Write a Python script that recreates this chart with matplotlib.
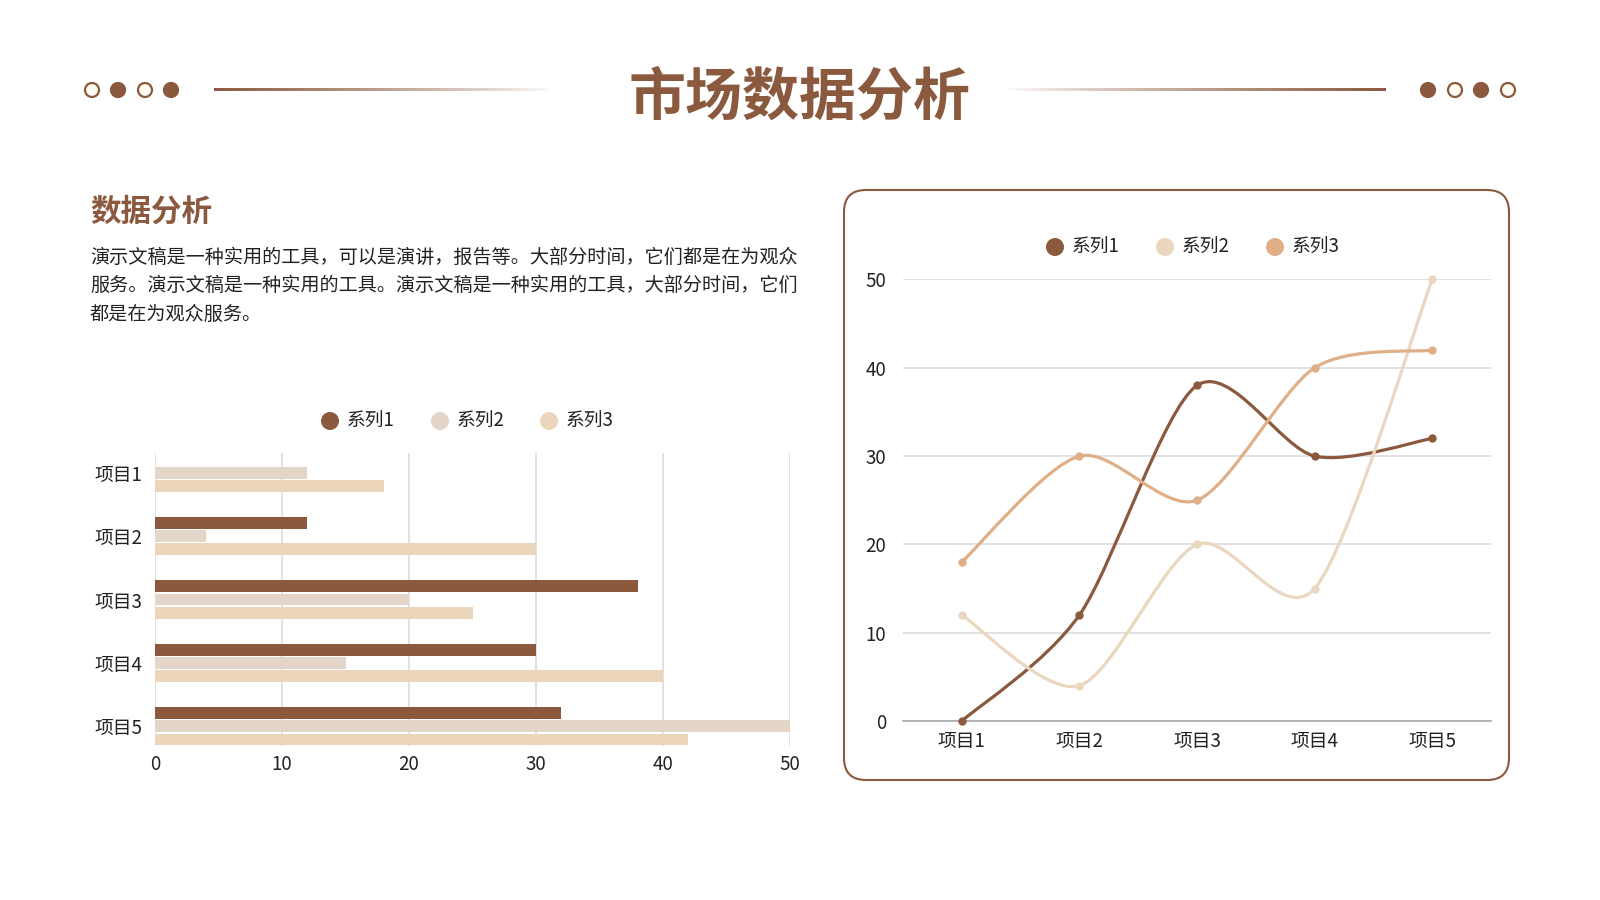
import numpy as np
import matplotlib
matplotlib.use("Agg")
import matplotlib.pyplot as plt
from matplotlib.path import Path
from matplotlib.patches import PathPatch, FancyBboxPatch, Circle

plt.rcParams['font.family'] = ['Noto Sans CJK SC', 'DejaVu Sans']

# data
categories = ["项目1", "项目2", "项目3", "项目4", "项目5"]
series_names = ["系列1", "系列2", "系列3"]
s1 = [0, 12, 38, 30, 32]
s2 = [12, 4, 20, 15, 50]
s3 = [18, 30, 25, 40, 42]
xticks_bar = [0, 10, 20, 30, 40, 50]
yticks_line = [0, 10, 20, 30, 40, 50]

title = "市场数据分析"
heading = "数据分析"
para_lines = [
    "演示文稿是一种实用的工具，可以是演讲，报告等。大部分时间，它们都是在为观众",
    "服务。演示文稿是一种实用的工具。演示文稿是一种实用的工具，大部分时间，它们",
    "都是在为观众服务。",
]

BROWN = "#8B5A3E"
bar_colors = [BROWN, "#E4D5C9", "#EBD6BC"]
line_colors = [BROWN, "#EBD7BF", "#DFAF88"]
GRID = "#DCDCDC"
TXT = "#222222"

W, H = 1600, 900
fig = plt.figure(figsize=(16, 9), dpi=100)
fig.patch.set_facecolor("white")


def box(l, t, r, b):
    # pixel box -> figure fraction rect
    return [l / W, 1 - b / H, (r - l) / W, (b - t) / H]


# overlay in pixel units for decoration
ov = fig.add_axes([0, 0, 1, 1], zorder=0)
ov.set_xlim(0, W)
ov.set_ylim(H, 0)
ov.axis("off")

# title
ov.text(800, 98, title, ha="center", va="center", fontsize=41,
        fontweight="bold", color=BROWN)

# dots
def dot(x, filled):
    fc = BROWN if filled else "#FFFBF3"
    ov.add_patch(Circle((x, 90), 7, facecolor=fc, edgecolor=BROWN, lw=1.6))

for x, f in zip([92, 118, 145, 171], [False, True, False, True]):
    dot(x, f)
for x, f in zip([1428, 1455, 1481, 1508], [True, False, True, False]):
    dot(x, f)

# gradient lines
rgb = matplotlib.colors.to_rgb(BROWN)
n = 300
grad = np.zeros((1, n, 4))
grad[0, :, :3] = rgb
grad[0, :, 3] = np.linspace(1, 0, n) ** 0.8
ov.imshow(grad, extent=(214, 551, 91.5, 88.5), aspect="auto", interpolation="bilinear")
ov.imshow(grad[:, ::-1, :], extent=(1005, 1386, 91.5, 88.5), aspect="auto", interpolation="bilinear")
ov.set_xlim(0, W)
ov.set_ylim(H, 0)

# heading + paragraph
ov.text(90, 212, heading, ha="left", va="center", fontsize=22,
        fontweight="bold", color=BROWN)
for i, ln in enumerate(para_lines):
    ov.text(90, 257 + i * 28.5, ln, ha="left", va="center", fontsize=13.75, color=TXT)

# rounded frame for line chart
ov.add_patch(FancyBboxPatch((844, 190), 665, 590,
                            boxstyle="round,pad=0,rounding_size=22",
                            facecolor="white", edgecolor=BROWN, lw=1.5))

# legends
def legend(xs, y, colors):
    for x, c, name in zip(xs, colors, series_names):
        ov.add_patch(Circle((x, y), 9, facecolor=c, edgecolor="none"))
        ov.text(x + 17, y, name, ha="left", va="center", fontsize=13.5, color=TXT)

legend([330, 440, 549], 421, bar_colors)
legend([1055, 1165, 1275], 247, line_colors)

# bar chart
ax1 = fig.add_axes(box(155, 453, 790, 746), zorder=2)
ax1.set_facecolor("none")
step = 0.209
hgt = 0.185
pos = np.arange(len(categories))
for k, (vals, c) in enumerate(zip([s1, s2, s3], bar_colors)):
    ax1.barh(pos + (k - 1) * step, vals, height=hgt, color=c, zorder=3)
ax1.set_xlim(0, 50)
ax1.set_ylim(4.31, -0.31)
ax1.set_xticks(xticks_bar)
ax1.set_yticks(pos)
ax1.set_yticklabels(categories)
ax1.xaxis.grid(True, color=GRID, lw=1.2)
ax1.set_axisbelow(True)
for sp in ax1.spines.values():
    sp.set_visible(False)
ax1.tick_params(axis="both", length=0, labelsize=13.5, colors=TXT)
ax1.tick_params(axis="x", pad=6)
ax1.tick_params(axis="y", pad=9)


# line chart
def smooth_path(xs, ys, t=1 / 7):
    pts = np.column_stack([xs, ys]).astype(float)
    n = len(pts)
    verts = [pts[0]]
    codes = [Path.MOVETO]
    for i in range(n - 1):
        p0 = pts[max(i - 1, 0)]
        p1 = pts[i]
        p2 = pts[i + 1]
        p3 = pts[min(i + 2, n - 1)]
        c1 = p1 + (p2 - p0) * t
        c2 = p2 - (p3 - p1) * t
        verts += [c1, c2, p2]
        codes += [Path.CURVE4] * 3
    return Path(verts, codes)


ax2 = fig.add_axes(box(903, 279.5, 1491, 721), zorder=2)
ax2.set_facecolor("none")
xs = np.arange(len(categories))
for vals, c in zip([s1, s2, s3], line_colors):
    ax2.add_patch(PathPatch(smooth_path(xs, vals), facecolor="none",
                            edgecolor=c, lw=2.3, zorder=3, clip_on=False,
                            capstyle="round", joinstyle="round"))
    ax2.plot(xs, vals, "o", color=c, markersize=5, zorder=4, clip_on=False)
ax2.set_xlim(-0.5, 4.5)
ax2.set_ylim(0, 50)
ax2.set_yticks(yticks_line)
ax2.set_xticks(xs)
ax2.set_xticklabels(categories)
ax2.yaxis.grid(True, color=GRID, lw=1.2)
ax2.set_axisbelow(True)
for name, sp in ax2.spines.items():
    sp.set_visible(name == "bottom")
ax2.spines["bottom"].set_color("#A8A8A8")
ax2.spines["bottom"].set_linewidth(1.2)
ax2.tick_params(axis="both", length=0, labelsize=13.5, colors=TXT)
ax2.tick_params(axis="x", pad=7)
ax2.tick_params(axis="y", pad=12)

fig.savefig("out.png", dpi=100, facecolor="white")
